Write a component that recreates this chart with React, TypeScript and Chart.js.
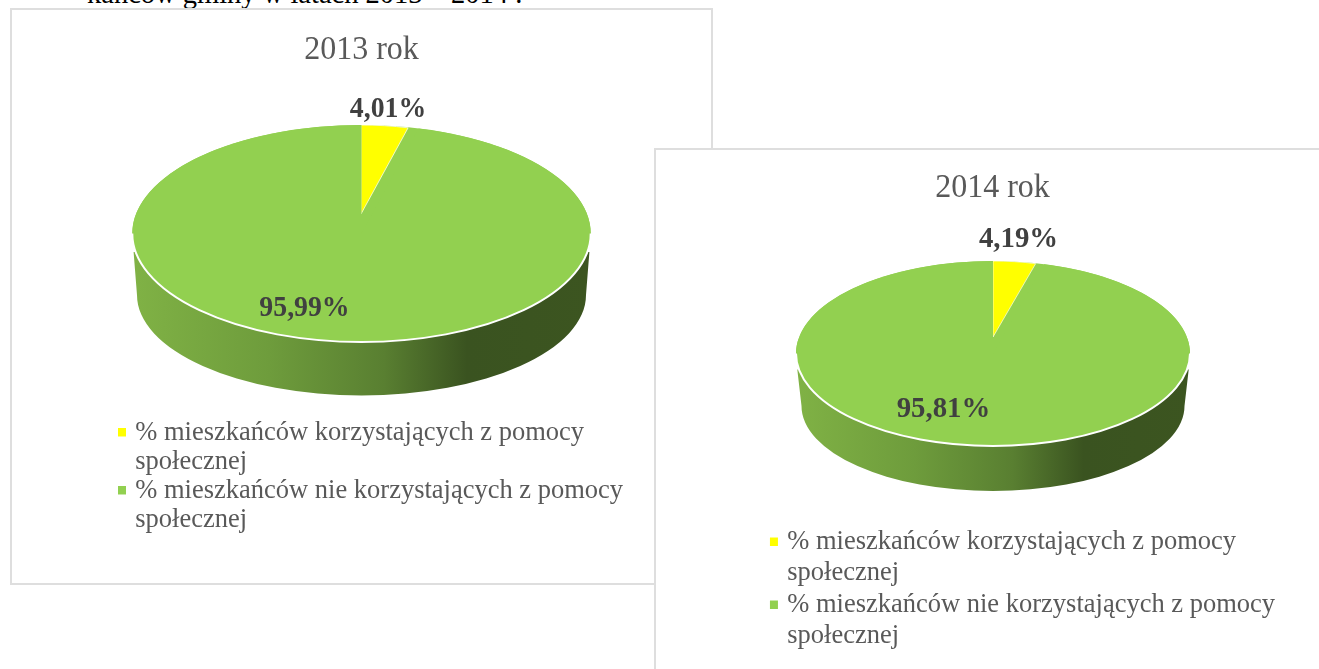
import React, { useEffect, useRef } from "react";
import { Chart, registerables } from "chart.js";

Chart.register(...registerables);

const FONT = "'Liberation Serif', 'Times New Roman', serif";

const categories: string[][] = [
  ["% mieszkańców korzystających z pomocy", "społecznej"],
  ["% mieszkańców nie korzystających z pomocy", "społecznej"],
];
const values2013 = [4.01, 95.99];
const values2014 = [4.19, 95.81];
const sliceColors = ["#FFFF00", "#92D050"];
const title2013 = "2013 rok";
const title2014 = "2014 rok";
const headingText = "kańców gminy w latach 2013 – 2014 .";

type Ellipse = { cx: number; cy: number; rx: number; ry: number };
type Look = {
  left: number;
  top: number;
  width: number;
  height: number;
  title: string;
  titleTop: number;
  values: number[];
  face: Ellipse;
  wedge: Ellipse;
  base: Ellipse;
  wallDrop: number;
  labelPos: number[][];
  labelSize: number;
  legendX: number;
  legendY: number;
  lineHeight: number;
  legendGap: number;
};

const TITLE_STRETCH = 1.08;
const LEGEND_STRETCH = 1.06;
const LABEL_STRETCH = 1.05;
const LEGEND_SIZE = 26.5;

const look2013: Look = {
  left: 10,
  top: 8,
  width: 703,
  height: 577,
  title: title2013,
  titleTop: 23,
  values: values2013,
  face: { cx: 361.5, cy: 233.5, rx: 229.2, ry: 108.5 },
  wedge: { cx: 361, cy: 214, rx: 189, ry: 89 },
  base: { cx: 361.5, cy: 295, rx: 224.5, ry: 100.5 },
  wallDrop: 18.5,
  labelPos: [[388, 109.5], [304.5, 308.5]],
  labelSize: 27.8,
  legendX: 122,
  legendY: 419,
  lineHeight: 29,
  legendGap: 0,
};

const look2014: Look = {
  left: 654,
  top: 148,
  width: 677,
  height: 540,
  title: title2014,
  titleTop: 21,
  values: values2014,
  face: { cx: 993, cy: 353.5, rx: 197, ry: 92.5 },
  wedge: { cx: 993, cy: 337, rx: 164, ry: 76 },
  base: { cx: 993, cy: 406, rx: 191.5, ry: 85 },
  wallDrop: 16,
  labelPos: [[1018.5, 239.5], [943.5, 409.5]],
  labelSize: 28.8,
  legendX: 773,
  legendY: 527.5,
  lineHeight: 31,
  legendGap: 1,
};

function stretchDraw(box: any, ctx: CanvasRenderingContext2D, k: number, pivot: number, body: () => void) {
  if (box.__stretched) return;
  box.__stretched = true;
  box.draw = () => {
    ctx.save();
    ctx.translate(0, pivot);
    ctx.scale(1, k);
    ctx.translate(0, -pivot);
    body();
    ctx.restore();
  };
}

function makeChart(canvas: HTMLCanvasElement, look: Look) {
  const toLocal = (e: Ellipse): Ellipse => ({
    cx: e.cx - look.left,
    cy: e.cy - look.top,
    rx: e.rx,
    ry: e.ry,
  });
  const face = toLocal(look.face);
  const wedge = toLocal(look.wedge);
  const base = toLocal(look.base);

  const pie3d = {
    id: "pie3d",
    afterLayout(chart: any) {
      const lg = chart.legend;
      lg.left = look.legendX - look.left;
      lg.right = look.width;
      lg.top = look.legendY - look.top;
      lg.bottom = look.height;
      stretchDraw(lg, chart.ctx, LEGEND_STRETCH, lg.top + LEGEND_SIZE / 2, () => lg._draw());
      const tb = chart.titleBlock;
      const drawTitle = tb.draw.bind(tb);
      stretchDraw(tb, chart.ctx, TITLE_STRETCH, look.titleTop + 19.2, drawTitle);
    },
    beforeDatasetsDraw(chart: any) {
      const ctx: CanvasRenderingContext2D = chart.ctx;
      const meta = chart.getDatasetMeta(0);
      meta.data.forEach((el: any, i: number) => {
        if (el.__wrapped) return;
        el.__wrapped = true;
        const target = i === 0 ? wedge : face;
        const orig = el.draw.bind(el);
        el.draw = (c: CanvasRenderingContext2D, area: any) => {
          const R = el.outerRadius;
          c.save();
          c.translate(target.cx, target.cy);
          c.scale(target.rx / R, target.ry / R);
          c.translate(-el.x, -el.y);
          orig(c, area);
          c.restore();
        };
      });

      // side wall
      const g = ctx.createLinearGradient(face.cx - face.rx, 0, face.cx + face.rx, 0);
      g.addColorStop(0, "#80B245");
      g.addColorStop(0.3, "#6E9C3C");
      g.addColorStop(0.55, "#597F31");
      g.addColorStop(0.73, "#3A5320");
      g.addColorStop(1, "#3C5520");
      ctx.save();
      ctx.beginPath();
      ctx.moveTo(face.cx - face.rx + 1.3, face.cy + look.wallDrop);
      ctx.lineTo(base.cx - base.rx, base.cy);
      ctx.ellipse(base.cx, base.cy, base.rx, base.ry, 0, Math.PI, 0, true);
      ctx.lineTo(face.cx + face.rx - 1.3, face.cy + look.wallDrop);
      ctx.closePath();
      ctx.fillStyle = g;
      ctx.fill();

      // white gap, then the top face under the slices
      ctx.beginPath();
      ctx.ellipse(face.cx, face.cy, face.rx, face.ry, 0, 0, Math.PI * 2);
      ctx.fillStyle = sliceColors[1];
      ctx.fill();
      ctx.restore();
    },
    afterDatasetsDraw(chart: any) {
      const ctx: CanvasRenderingContext2D = chart.ctx;
      ctx.save();
      ctx.beginPath();
      ctx.ellipse(face.cx, face.cy, face.rx, face.ry, 0, 0, Math.PI);
      ctx.strokeStyle = "#FFFFFF";
      ctx.lineWidth = 2;
      ctx.stroke();

      ctx.font = `bold ${look.labelSize}px ${FONT}`;
      ctx.fillStyle = "#404040";
      ctx.textAlign = "center";
      ctx.textBaseline = "middle";
      look.values.forEach((v, i) => {
        const text = v.toFixed(2).replace(".", ",") + "%";
        ctx.save();
        ctx.translate(look.labelPos[i][0] - look.left, look.labelPos[i][1] - look.top);
        ctx.scale(1, LABEL_STRETCH);
        ctx.fillText(text, 0, 0);
        ctx.restore();
      });
      ctx.restore();
    },
  };

  const baseLabels = (Chart as any).overrides.pie.plugins.legend.labels.generateLabels;

  return new Chart(canvas, {
    type: "pie",
    data: {
      labels: categories as any,
      datasets: [
        {
          data: look.values,
          backgroundColor: sliceColors,
          borderColor: "#FFFFFF",
          borderWidth: [0.9, 0],
          clip: false,
        } as any,
      ],
    },
    options: {
      responsive: false,
      animation: false,
      events: [],
      layout: { padding: 0 },
      plugins: {
        tooltip: { enabled: false },
        title: {
          display: true,
          text: look.title,
          color: "#595959",
          font: { family: FONT, size: 32, weight: "normal", lineHeight: 1.2 },
          padding: { top: look.titleTop, bottom: 0 },
        },
        legend: {
          display: true,
          position: "left",
          align: "start",
          labels: {
            usePointStyle: true,
            pointStyle: "rect",
            boxWidth: 0.01,
            boxHeight: 8,
            padding: look.legendGap / LEGEND_STRETCH,
            color: "#595959",
            textAlign: "left",
            font: {
              family: FONT,
              size: LEGEND_SIZE,
              lineHeight: look.lineHeight / LEGEND_STRETCH / LEGEND_SIZE,
            },
            generateLabels: (chart: any) =>
              baseLabels(chart).map((it: any) => ({ ...it, lineWidth: 0 })),
          },
        },
      },
    } as any,
    plugins: [pie3d as any],
  });
}

function PieBox({ look }: { look: Look }) {
  const ref = useRef<HTMLCanvasElement | null>(null);
  useEffect(() => {
    if (!ref.current) return;
    const chart = makeChart(ref.current, look);
    return () => chart.destroy();
  }, [look]);
  return (
    <div
      style={{
        position: "absolute",
        left: look.left,
        top: look.top,
        width: look.width,
        height: look.height,
        background: "#FFFFFF",
      }}
    >
      <canvas
        ref={ref}
        width={look.width}
        height={look.height}
        style={{ position: "absolute", left: 0, top: 0, display: "block" }}
      />
      <div
        style={{
          position: "absolute",
          inset: 0,
          boxSizing: "border-box",
          border: "2px solid #DEDEDE",
          pointerEvents: "none",
        }}
      />
    </div>
  );
}

export default function App() {
  return (
    <div
      style={{
        position: "fixed",
        left: 0,
        top: 0,
        width: 1319,
        height: 669,
        overflow: "hidden",
        background: "#FFFFFF",
      }}
    >
      <div
        style={{
          position: "absolute",
          left: 87,
          top: -21.5,
          fontFamily: FONT,
          fontSize: 28.5,
          lineHeight: "30px",
          color: "#000000",
          whiteSpace: "nowrap",
        }}
      >
        {headingText}
      </div>
      <PieBox look={look2013} />
      <PieBox look={look2014} />
    </div>
  );
}
